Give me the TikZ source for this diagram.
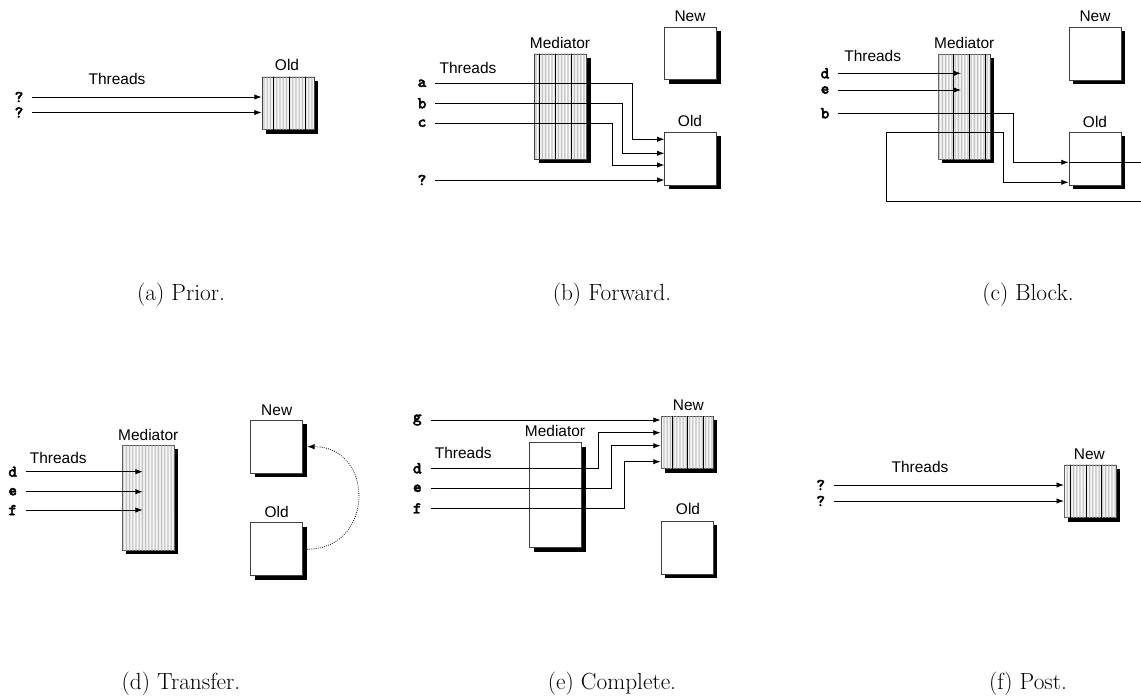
\documentclass[tikz,border=0pt]{standalone}
\usepackage{fontspec}
\newfontfamily\helv{Liberation Sans}
\newfontfamily\cour[FakeBold=2]{lmmonolt10-bold.otf}
\usetikzlibrary{arrows.meta,shadows,patterns}

\pgfdeclarepatternformonly{squiggle}{\pgfqpoint{-0.3pt}{-0.3pt}}{\pgfqpoint{2.7pt}{3.3pt}}{\pgfqpoint{2.4pt}{3pt}}{
  \pgfsetlinewidth{0.3pt}
  \pgfpathmoveto{\pgfqpoint{0.5pt}{0pt}}
  \pgfpathlineto{\pgfqpoint{1.9pt}{0.75pt}}
  \pgfpathlineto{\pgfqpoint{0.5pt}{1.5pt}}
  \pgfpathlineto{\pgfqpoint{1.9pt}{2.25pt}}
  \pgfpathlineto{\pgfqpoint{0.5pt}{3pt}}
  \pgfusepath{stroke}
}

\begin{document}
\begin{tikzpicture}[x=0.75pt,y=-0.75pt,
    box/.style={draw=black!75, line width=0.6pt, fill=white, inner sep=0pt,
      minimum width=39pt, minimum height=39.5pt,
      drop shadow={shadow xshift=3pt, shadow yshift=-3pt, fill=black, opacity=1}},
    medbox/.style={box, minimum height=78.75pt},
    busy/.style={postaction={pattern=squiggle, pattern color=black!32}},
    objname/.style={font=\helv\fontsize{11.6}{14}\selectfont},
    tid/.style={font=\cour\fontsize{12.5}{14}\selectfont, inner xsep=6.5pt},
    thr/.style={line width=0.6pt, -{Latex[length=5.5pt,width=4pt]}},
    wire/.style={line width=0.6pt},
    move/.style={line width=0.6pt, densely dotted, -{Latex[length=5.5pt,width=4pt]}},
    subcap/.style={font=\fontsize{17.5}{21}\selectfont}]
  \useasboundingbox (0,0) rectangle (1141,698);

  % (a) prior
  \node[box,busy] (old1) at (288,103.3) {};
  \foreach \x in {273.3,289.3,305} \draw[wire] (\x,0 |- old1.north) -- (\x,0 |- old1.south);
  \node[objname] (old1lbl) at (287,65) {Old};
  \node[objname] (thr1) at (117,79) {Threads};
  \node[tid] (q1) at (19,97) {?};
  \node[tid] (q2) at (19,112.5) {?};
  \draw[thr] (q1.east) -- (old1.west |- q1);
  \draw[thr] (q2.east) -- (old1.west |- q2);
  \node[subcap] (capa) at (181,295) {(a) Prior.};

  % (b) forward
  \node[box] (new2) at (690.8,53.3) {};
  \node[medbox,busy] (med2) at (560.5,106.5) {};
  \foreach \x in {539.3,555.7,571.7} \draw[wire] (\x,0 |- med2.north) -- (\x,0 |- med2.south);
  \node[box] (old2) at (690.8,158.8) {};
  \node[objname] (new2lbl) at (690,16) {New};
  \node[objname] (med2lbl) at (560,42.7) {Mediator};
  \node[objname] (old2lbl) at (690,120.7) {Old};
  \node[objname] (thr2) at (468,68.3) {Threads};
  \node[tid] (ta) at (422,83.3) {a};
  \node[tid] (tb) at (422,103.3) {b};
  \node[tid] (tc) at (422,123.3) {c};
  \node[tid] (tq) at (422,180) {?};
  \draw[thr] (ta.east) -| (632.3,139.3) -- (old2.west |- 0,139.3);
  \draw[thr] (tb.east) -| (622.3,153.3) -- (old2.west |- 0,153.3);
  \draw[thr] (tc.east) -| (612.3,165) -- (old2.west |- 0,165);
  \draw[thr] (tq.east) -- (old2.west |- tq);
  \node[subcap] (capb) at (612,295) {(b) Forward.};

  % (c) block
  \node[box] (new3) at (1095.3,53.7) {};
  \node[medbox,busy] (med3) at (964.2,106.7) {};
  \foreach \x in {953.3,969.3,985.3} \draw[wire] (\x,0 |- med3.north) -- (\x,0 |- med3.south);
  \node[box] (old3) at (1095,158.8) {};
  \node[objname] (new3lbl) at (1095,16) {New};
  \node[objname] (med3lbl) at (964.3,42.7) {Mediator};
  \node[objname] (old3lbl) at (1095,121.7) {Old};
  \node[objname] (thr3) at (872.7,56) {Threads};
  \node[tid] (td3) at (825,73.3) {d};
  \node[tid] (te3) at (825,90) {e};
  \node[tid] (tb3) at (825,113.3) {b};
  \coordinate (cut1) at (1141,162.3);
  \coordinate (cut2) at (1141,201);
  \draw[thr] (td3.east) -- (td3 -| 961,0);
  \draw[thr] (te3.east) -- (te3 -| 961,0);
  \draw[thr] (tb3.east) -| (1013.3,162.3) -- (old3.west |- cut1);
  \draw[wire] (old3.west |- cut1) -- (cut1);
  \draw[thr] (cut2) -| (886,132.7) -| (1003.3,182.3) -- (old3.west |- 0,182.3);
  \node[subcap] (capc) at (1028,295) {(c) Block.};

  % (d) transfer
  \node[medbox,busy] (med4) at (148.3,497.8) {};
  \node[box] (new4) at (276.8,446.7) {};
  \node[box] (old4) at (276.8,549.2) {};
  \node[objname] (med4lbl) at (148.3,435) {Mediator};
  \node[objname] (new4lbl) at (276.7,410) {New};
  \node[objname] (old4lbl) at (276.7,511.7) {Old};
  \node[objname] (thr4) at (58.3,458.3) {Threads};
  \node[tid] (td4) at (12.7,471.7) {d};
  \node[tid] (te4) at (12.7,491.7) {e};
  \node[tid] (tf4) at (12.7,510) {f};
  \draw[thr] (td4.east) -- (td4 -| 142.7,0);
  \draw[thr] (te4.east) -- (te4 -| 142.7,0);
  \draw[thr] (tf4.east) -- (tf4 -| 142.7,0);
  \draw[move] ([xshift=3pt]old4.east) .. controls (375,549.2) and (375,446.7) .. ([xshift=3pt]new4.east);
  \node[subcap] (capd) at (181,684) {(d) Transfer.};

  % (e) complete
  \node[box,busy] (new5) at (687,442.5) {};
  \foreach \x in {672,687.3,703.3} \draw[wire] (\x,0 |- new5.north) -- (\x,0 |- new5.south);
  \node[medbox] (med5) at (555.5,495) {};
  \node[box] (old5) at (687,547.8) {};
  \node[objname] (new5lbl) at (688.3,405) {New};
  \node[objname] (med5lbl) at (555,430.7) {Mediator};
  \node[objname] (old5lbl) at (688,509.3) {Old};
  \node[objname] (thr5) at (463.3,453.3) {Threads};
  \node[tid] (tg5) at (417.3,420) {g};
  \node[tid] (td5) at (417.3,468.3) {d};
  \node[tid] (te5) at (417.3,488.3) {e};
  \node[tid] (tf5) at (417.3,508.3) {f};
  \draw[thr] (tg5.east) -- (new5.west |- tg5);
  \draw[thr] (td5.east) -| (598.3,432.7) -- (new5.west |- 0,432.7);
  \draw[thr] (te5.east) -| (611,445.7) -- (new5.west |- 0,445.7);
  \draw[thr] (tf5.east) -| (624.3,461.7) -- (new5.west |- 0,461.7);
  \node[subcap] (cape) at (612,684) {(e) Complete.};

  % (f) post
  \node[box,busy] (new6) at (1090.3,491.3) {};
  \foreach \x in {1070,1086,1101.7} \draw[wire] (\x,0 |- new6.north) -- (\x,0 |- new6.south);
  \node[objname] (new6lbl) at (1089.3,454) {New};
  \node[objname] (thr6) at (920,466.7) {Threads};
  \node[tid] (q6) at (820.7,485) {?};
  \node[tid] (q7) at (820.7,501) {?};
  \draw[thr] (q6.east) -- (new6.west |- q6);
  \draw[thr] (q7.east) -- (new6.west |- q7);
  \node[subcap] (capf) at (1028,684) {(f) Post.};
\end{tikzpicture}
\end{document}
